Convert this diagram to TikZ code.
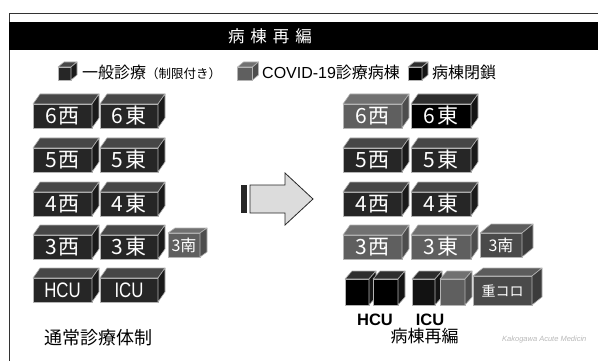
\documentclass[tikz,border=0pt]{standalone}
\usepackage{fontspec}
\setmainfont{Noto Sans CJK JP}
\newfontfamily\latinnarrow[FakeStretch=0.8]{Liberation Sans}
\newfontfamily\latinsans{Liberation Sans}
\definecolor{edge}{HTML}{B4B4B4}
\definecolor{dkF}{HTML}{262626}\definecolor{dkT}{HTML}{474747}\definecolor{dkS}{HTML}{1A1A1A}
\definecolor{grF}{HTML}{5F5F5F}\definecolor{grT}{HTML}{717171}\definecolor{grS}{HTML}{4D4D4D}
\definecolor{g2F}{HTML}{4A4A4A}\definecolor{g2T}{HTML}{5C5C5C}\definecolor{g2S}{HTML}{3C3C3C}
\definecolor{bkF}{HTML}{000000}\definecolor{bkT}{HTML}{2E2E2E}\definecolor{bkS}{HTML}{141414}
\definecolor{icF}{HTML}{121212}
\definecolor{arrowfill}{HTML}{DCDCDC}
\def\ddx{7}\def\ddy{10}
\newcommand\wardbox[9]{%
  \node[wbfront, fill=#6, minimum width=#4pt, minimum height=#5pt] (#1) at (#2,#3) {#9};
  \filldraw[fill=#7, draw=edge, line width=0.6pt, line join=round]
    (#1.north west) -- ++(\ddx,-\ddy) -- ([shift={(\ddx,-\ddy)}]#1.north east) -- (#1.north east) -- cycle;
  \filldraw[fill=#8, draw=edge, line width=0.6pt, line join=round]
    (#1.north east) -- ++(\ddx,-\ddy) -- ([shift={(\ddx,-\ddy)}]#1.south east) -- (#1.south east) -- cycle;
}
\tikzset{
  wbfront/.style={draw=edge, line width=0.6pt, text=white, inner sep=0pt, outer sep=0pt,
    font=\fontsize{21}{23}\selectfont},
  legendtext/.style={anchor=west, inner sep=0pt, font=\fontsize{16}{18}\selectfont},
  bottomlabel/.style={inner sep=0pt, font=\fontsize{18}{20}\selectfont},
  unitlabel/.style={inner sep=0pt, font=\latinsans\bfseries\fontsize{16.5}{18}\selectfont},
}
\begin{document}
\begin{tikzpicture}[x=1pt,y=-1pt]
\useasboundingbox (0,0) rectangle (598,361);
% frame and title bar
\draw[draw=black!80, line width=0.6pt] (9,13) rectangle (610,372);
\fill[black] (9,22) rectangle (598,50);
\node[text=white, inner sep=0pt, font=\fontsize{16.5}{18}\selectfont] (title) at (270,36)
  {病\hspace{6pt}棟\hspace{6pt}再\hspace{6pt}編};
% legend
\def\ddx{6}\def\ddy{5}
\wardbox{lg1}{64.5}{73.5}{13}{13}{dkF}{dkT}{dkS}{}
\wardbox{lg2}{245}{73.5}{15}{13}{grF}{grT}{grS}{}
\wardbox{lg3}{415}{73.5}{14}{13}{bkF}{bkT}{bkS}{}
\node[legendtext] (lt1) at (82,72) {一般診療{\fontsize{12.5}{14}\selectfont（制限付き）}};
\node[legendtext] (lt2) at (262,72) {{\latinsans COVID-19}診療病棟};
\node[legendtext] (lt3) at (432,72) {病棟閉鎖};
% left column
\def\ddx{7}\def\ddy{10}
\wardbox{l6w}{62.5}{116}{59}{24}{dkF}{dkT}{dkS}{6\hspace{2pt}西}
\wardbox{l6e}{129}{116}{58}{24}{dkF}{dkT}{dkS}{6\hspace{2pt}東}
\wardbox{l5w}{62.5}{160}{59}{24}{dkF}{dkT}{dkS}{5\hspace{2pt}西}
\wardbox{l5e}{129}{160}{58}{24}{dkF}{dkT}{dkS}{5\hspace{2pt}東}
\wardbox{l4w}{62.5}{204}{59}{24}{dkF}{dkT}{dkS}{4\hspace{2pt}西}
\wardbox{l4e}{129}{204}{58}{24}{dkF}{dkT}{dkS}{4\hspace{2pt}東}
\wardbox{l3w}{62.5}{247}{59}{24}{dkF}{dkT}{dkS}{3\hspace{2pt}西}
\wardbox{l3e}{129}{247}{58}{24}{dkF}{dkT}{dkS}{3\hspace{2pt}東}
\wardbox{lhcu}{62.5}{290}{59}{24}{dkF}{dkT}{dkS}{\latinnarrow HCU}
\wardbox{licu}{129}{290}{58}{24}{dkF}{dkT}{dkS}{\latinnarrow ICU}
\def\ddx{7}\def\ddy{5}
\wardbox{l3s}{184}{245}{32}{24}{grF}{grT}{grS}{\fontsize{16}{18}\selectfont 3南}
\node[bottomlabel] (lcap) at (98.5,338) {通常診療体制};
% arrow
\fill[black!85] (241,185) rectangle (247,213);
\draw[fill=arrowfill, draw=black!85, line width=0.8pt, line join=miter]
  (250,185) -- (285,185) -- (285,173) -- (313,199) -- (285,225) -- (285,213) -- (250,213) -- cycle;
% right column
\def\ddx{7}\def\ddy{10}
\wardbox{r6w}{372.5}{116}{59}{24}{grF}{grT}{grS}{6\hspace{2pt}西}
\wardbox{r6e}{441}{116}{60}{24}{bkF}{bkT}{bkS}{6\hspace{2pt}東}
\wardbox{r5w}{372.5}{160}{59}{24}{dkF}{dkT}{dkS}{5\hspace{2pt}西}
\wardbox{r5e}{441}{160}{60}{24}{dkF}{dkT}{dkS}{5\hspace{2pt}東}
\wardbox{r4w}{372.5}{204}{59}{24}{dkF}{dkT}{dkS}{4\hspace{2pt}西}
\wardbox{r4e}{441}{204}{60}{24}{dkF}{dkT}{dkS}{4\hspace{2pt}東}
\wardbox{r3w}{372.5}{247}{59}{24}{grF}{grT}{grS}{3\hspace{2pt}西}
\wardbox{r3e}{441}{247}{60}{24}{grF}{grT}{grS}{3\hspace{2pt}東}
\def\ddx{11}\def\ddy{9}
\wardbox{r3s}{501}{245}{42}{24}{g2F}{g2T}{g2S}{\fontsize{16}{18}\selectfont 3南}
\def\ddx{10}\def\ddy{8}
\wardbox{rjc}{502.5}{290.5}{59}{29}{g2F}{g2T}{g2S}{\fontsize{14}{16}\selectfont 重コロ}
\def\ddx{7}\def\ddy{8}
\wardbox{rh1}{357}{292}{24}{26}{bkF}{bkT}{bkS}{}
\wardbox{rh2}{385.5}{292}{25}{26}{bkF}{bkT}{bkS}{}
\wardbox{ri1}{423.5}{292}{23}{26}{icF}{bkT}{bkS}{}
\wardbox{ri2}{452.5}{292}{25}{26}{grF}{grT}{grS}{}
\node[unitlabel] (hcu) at (375,320) {HCU};
\node[unitlabel] (icu) at (430,320) {ICU};
\node[bottomlabel, font=\fontsize{17}{19}\selectfont] (rcap) at (424.5,336) {病棟再編};
\node[anchor=west, inner sep=0pt, text=black!28, font=\latinsans\itshape\fontsize{7.5}{9}\selectfont] (wm) at (502,340) {Kakogawa Acute Medicin};
\end{tikzpicture}
\end{document}
